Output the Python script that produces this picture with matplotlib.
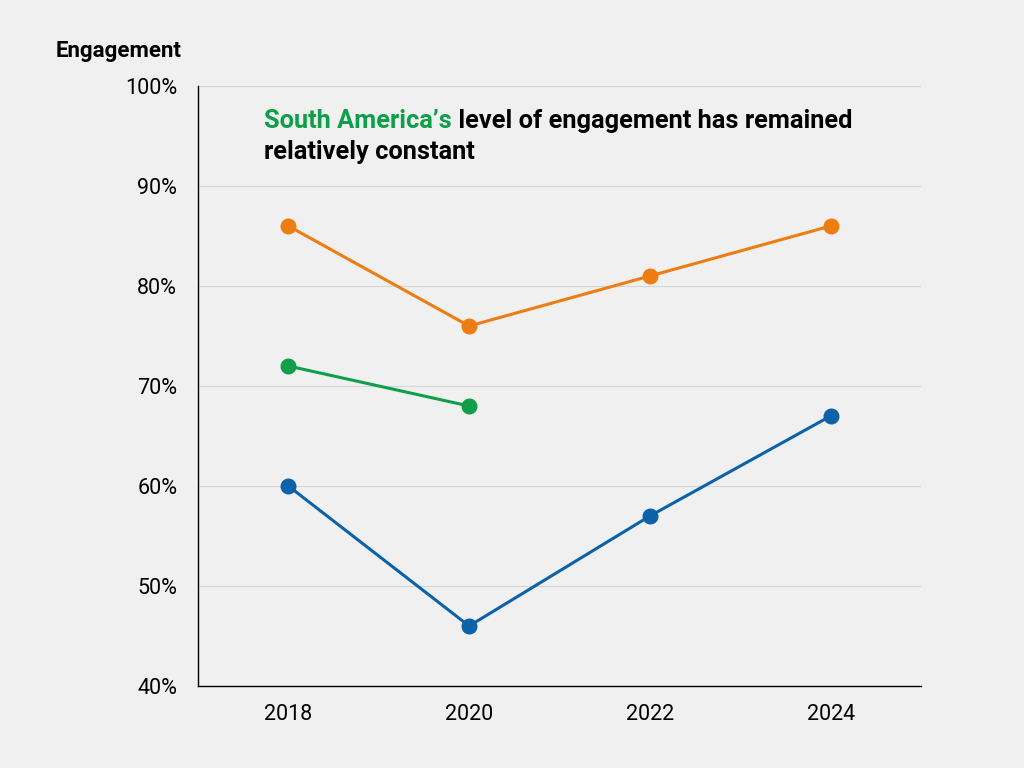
import matplotlib.pyplot as plt
from matplotlib.ticker import FuncFormatter

# data
years = ["2018", "2020", "2022", "2024"]
orange_vals = [86, 76, 81, 86]
green_vals = [72, 68]
blue_vals = [60, 46, 57, 67]

bg = "#f0f0f0"
orange = "#ee7d11"
green = "#0e9f48"
blue = "#0b62a8"

plt.rcParams['font.family'] = ['Roboto', 'DejaVu Sans']

fig = plt.figure(figsize=(10.24, 7.68), dpi=100, facecolor=bg)
ax = fig.add_axes([198 / 1024, 1 - 686 / 768, (921 - 198) / 1024, (686 - 86) / 768])
ax.set_facecolor(bg)

x = list(range(len(years)))
ax.plot(x, orange_vals, color=orange, lw=2.2, marker="o", ms=10.5, zorder=3)
ax.plot(x[:len(green_vals)], green_vals, color=green, lw=2.2, marker="o", ms=10.5, zorder=3)
ax.plot(x, blue_vals, color=blue, lw=2.2, marker="o", ms=10.5, zorder=3)

ax.set_xlim(-0.5, 3.5)
ax.set_ylim(40, 100)
ax.set_xticks(x)
ax.set_xticklabels(years)
ax.set_yticks(range(40, 101, 10))
ax.yaxis.set_major_formatter(FuncFormatter(lambda v, p: f"{v:.0f}%"))
ax.tick_params(length=0, labelsize=15.5)
ax.tick_params(axis="x", pad=13)
ax.tick_params(axis="y", pad=15)
ax.grid(axis="y", color="#d6d6d6", lw=0.8)
ax.set_axisbelow(True)
for s in ["top", "right"]:
    ax.spines[s].set_visible(False)
for s in ["left", "bottom"]:
    ax.spines[s].set_color("black")
    ax.spines[s].set_linewidth(1)

fig.text(56 / 1024, 1 - 51 / 768, "Engagement", fontsize=16, fontweight="bold", va="center", ha="left")

t1 = fig.text(264 / 1024, 1 - 121 / 768, "South America’s", fontsize=18.3, fontweight="bold",
              color=green, va="center", ha="left")
ax.annotate(" level of engagement has remained", xy=(1, 0), xycoords=t1, va="bottom",
            ha="left", fontsize=18.3, fontweight="bold", color="black")
fig.text(264 / 1024, 1 - 152 / 768, "relatively constant", fontsize=18.3, fontweight="bold",
         color="black", va="center", ha="left")

fig.savefig("out.png", dpi=100, facecolor=bg)
